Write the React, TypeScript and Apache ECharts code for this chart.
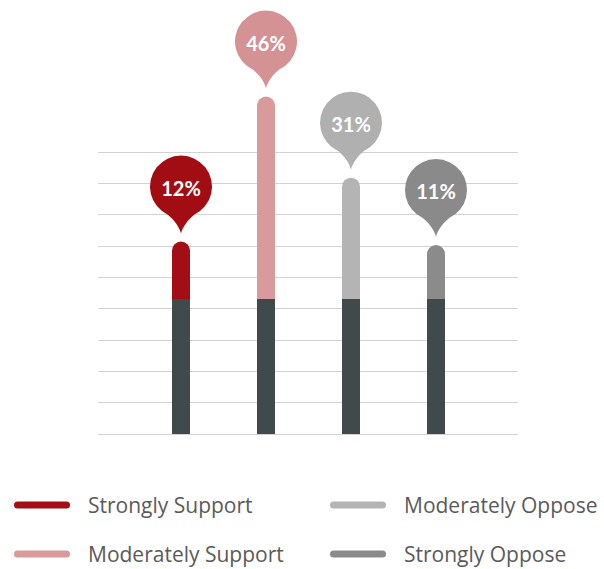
import React, { useEffect, useRef } from "react";
import * as echarts from "echarts";

const categories = ["Strongly Support", "Moderately Support", "Moderately Oppose", "Strongly Oppose"];
const percentages = [12, 46, 31, 11];
const baseHeights = [4.31, 4.31, 4.31, 4.31];
const segmentHeights = [1.83, 6.46, 3.87, 1.72];
const segmentColors = ["#a30e16", "#d99a9c", "#b4b4b4", "#8b8b8b"];
const pinColors = ["#a20d14", "#d49294", "#b0b0b0", "#8a8a8a"];
const baseColor = "#414a4a";
const yMax = 9;
const yInterval = 1;

const legendIcon =
  "path://M3.5,0 L52.5,0 A3.5,3.5 0 0 1 52.5,7 L3.5,7 A3.5,3.5 0 0 1 3.5,0 Z";

const PinShape = echarts.graphic.extendShape({
  shape: { cx: 0, cy: 0, r: 0, tip: 0 },
  buildPath(ctx: any, shape: any) {
    const { cx, cy, r, tip } = shape;
    const theta = 0.44;
    const dx = r * Math.sin(theta);
    const dy = r * Math.cos(theta);
    const lx = cx - dx;
    const rx = cx + dx;
    const jy = cy + dy;
    ctx.moveTo(cx, tip);
    ctx.bezierCurveTo(cx - 1.5, tip - 7, lx + 6, jy + 5, lx, jy);
    ctx.arc(cx, cy, r, Math.PI / 2 + theta, Math.PI * 2 + Math.PI / 2 - theta, false);
    ctx.bezierCurveTo(rx - 6, jy + 5, cx + 1.5, tip - 7, cx, tip);
    ctx.closePath();
  },
});
echarts.graphic.registerShape("pinShape", PinShape);

export default function App() {
  const ref = useRef<HTMLDivElement>(null);
  useEffect(() => {
    if (!ref.current) return;
    const chart = echarts.init(ref.current, undefined, { renderer: "svg" });
    const legendText = {
      fontFamily: "Open Sans",
      fontSize: 21,
      color: "#5a5a5a",
      lineHeight: 24,
      padding: [0, 0, 0, 13],
    };
    const legendCommon = {
      orient: "vertical" as const,
      top: 493,
      padding: 0,
      itemWidth: 56,
      itemHeight: 7,
      itemGap: 25,
      icon: legendIcon,
      selectedMode: false,
      textStyle: legendText,
    };
    chart.setOption({
      animation: false,
      backgroundColor: "#ffffff",
      grid: [
        { left: 98, right: 86, top: 152, bottom: 135 },
        { left: 138.5, right: 125.5, top: 152, bottom: 135 },
      ],
      xAxis: [
        { type: "value", gridIndex: 0, min: 0, max: 1, show: false },
        {
          type: "category",
          gridIndex: 1,
          data: categories,
          show: false,
        },
      ],
      yAxis: [
        {
          type: "value",
          gridIndex: 0,
          min: 0,
          max: yMax,
          interval: yInterval,
          axisLine: { show: false },
          axisTick: { show: false },
          axisLabel: { show: false },
          splitLine: { show: true, lineStyle: { color: "#d2d2d2", width: 1 } },
        },
        {
          type: "value",
          gridIndex: 1,
          min: 0,
          max: yMax,
          interval: yInterval,
          show: false,
          splitLine: { show: false },
        },
      ],
      legend: [
        { ...legendCommon, left: 14, data: [categories[0], categories[1]] },
        { ...legendCommon, left: 330, data: [categories[2], categories[3]] },
      ],
      series: [
        {
          type: "bar",
          name: "Base",
          xAxisIndex: 1,
          yAxisIndex: 1,
          stack: "total",
          barWidth: 18,
          clip: false,
          data: baseHeights,
          itemStyle: { color: baseColor },
        },
        ...categories.map((name, i) => ({
          type: "bar",
          name,
          xAxisIndex: 1,
          yAxisIndex: 1,
          stack: "total",
          barWidth: 18,
          clip: false,
          data: segmentHeights.map((v, j) => (j === i ? v : "-")),
          itemStyle: { color: segmentColors[i], borderRadius: [9, 9, 0, 0] },
        })),
        {
          type: "custom",
          name: "pins",
          xAxisIndex: 1,
          yAxisIndex: 1,
          clip: false,
          z: 5,
          data: percentages.map((p, i) => [i, baseHeights[i] + segmentHeights[i], p]),
          renderItem: (params: any, api: any) => {
            const i = params.dataIndex;
            const pt = api.coord([api.value(0), api.value(1)]);
            const cx = pt[0];
            const tip = pt[1] - 8;
            const r = 31;
            const cy = tip - 47;
            return {
              type: "group",
              children: [
                {
                  type: "pinShape",
                  shape: { cx, cy, r, tip },
                  style: { fill: pinColors[i] },
                },
                {
                  type: "text",
                  x: cx,
                  y: cy + 1,
                  style: {
                    text: api.value(2) + "%",
                    fill: "#ffffff",
                    fontFamily: "Lato",
                    fontWeight: "bold",
                    fontSize: 20,
                    align: "center",
                    verticalAlign: "middle",
                  },
                },
              ],
            };
          },
        },
      ],
    });
    return () => chart.dispose();
  }, []);
  return (
    <div
      ref={ref}
      style={{ position: "fixed", left: 0, top: 0, width: 604, height: 569 }}
    />
  );
}
